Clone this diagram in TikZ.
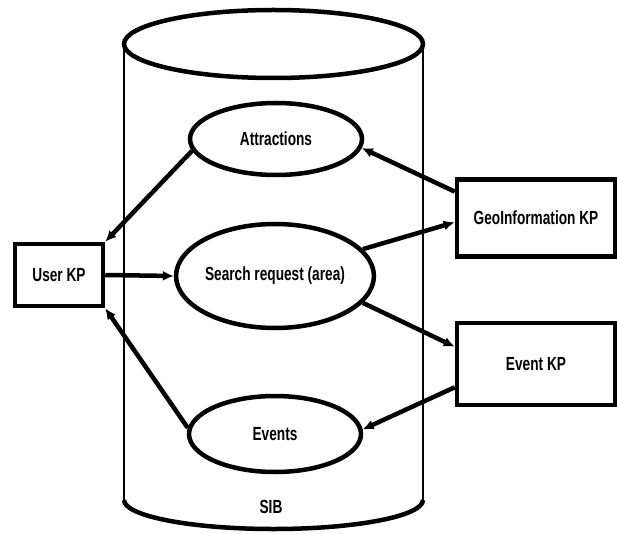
\documentclass[tikz,border=0pt]{standalone}
\usepackage{fontspec}
\setmainfont{Liberation Sans}[FakeStretch=0.72]
\usetikzlibrary{shapes.geometric,arrows.meta}
\begin{document}
\begin{tikzpicture}[x=1pt,y=-1pt,
  font=\fontsize{19}{22}\selectfont\bfseries,
  oval/.style={draw,ellipse,line width=4.5pt,inner sep=0pt,minimum width=172pt},
  kpbox/.style={draw,rectangle,line width=4.5pt,inner sep=0pt},
  link/.style={line width=4.5pt,-{Latex[length=11pt,width=10pt]}},
  cyl/.style={line width=2.5pt}]
\useasboundingbox (0,0) rectangle (617,534);
% cylinder
\draw[cyl] (124,44) -- (124,500);
\draw[cyl] (423,44) -- (423,500);
\draw[line width=4.5pt] (273.5,44) ellipse[x radius=149.5, y radius=34];
\draw[line width=4.5pt] (124,500) arc[start angle=180, end angle=0, x radius=149.5, y radius=29];
\node (sib) at (271,507) {SIB};
% ellipses
\node[oval,minimum height=72pt] (attr) at (276,139) {Attractions};
\node[oval,minimum height=104pt] (search) at (275,276) {Search request (area)};
\node[oval,minimum height=76pt] (events) at (275,434) {Events};
% boxes
\node[kpbox,minimum width=88pt,minimum height=62pt] (user) at (59,275) {User KP};
\node[kpbox,minimum width=158pt,minimum height=77pt] (geo) at (536,218) {GeoInformation KP};
\node[kpbox,minimum width=158pt,minimum height=82pt] (ekp) at (536,364) {Event KP};
% connectors
\draw[link] (attr.188) -- (user.north east);
\draw[link] (user.east) -- (search.west);
\draw[link] (events.176) -- (user.south east);
\draw[link] (geo.162) -- (attr.-6);
\draw[link] (search.17) -- (geo.183);
\draw[link] (search.-17) -- (ekp.168);
\draw[link] (ekp.196) -- (events.3);
\end{tikzpicture}
\end{document}
